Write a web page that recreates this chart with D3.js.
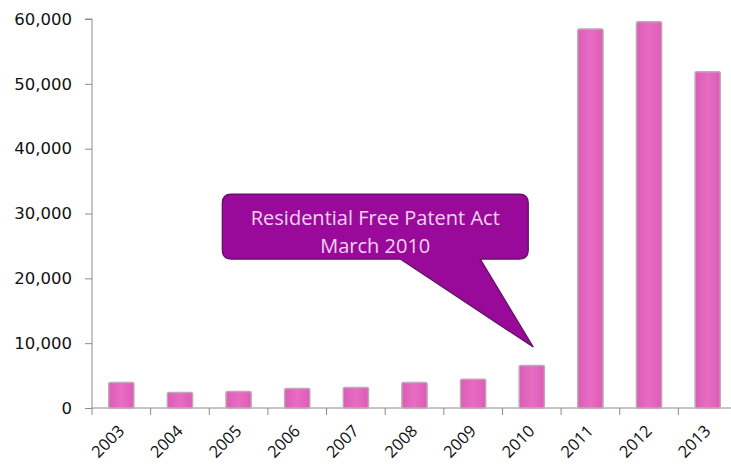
<!DOCTYPE html>
<html><head><meta charset="utf-8">
<script src="https://cdn.jsdelivr.net/npm/d3@7"></script>
<style>body{margin:0;background:#fff}svg{display:block}</style>
</head><body>
<svg id="c" width="731" height="464"></svg>
<script>
const years = ["2003","2004","2005","2006","2007","2008","2009","2010","2011","2012","2013"];
const values = [3950, 2400, 2550, 3000, 3150, 3950, 4450, 6550, 58450, 59570, 51860];
const yTicks = [0, 10000, 20000, 30000, 40000, 50000, 60000];
const noteLines = ["Residential Free Patent Act", "March 2010"];
const noteYear = "2010";
const noteValue = 9400;

const svg = d3.select("#c");
const x = d3.scaleBand().domain(years).range([92, 737]).paddingInner(0.57).paddingOuter(0.285);
const xb = d3.scaleBand().domain(years).range([92, 737]);
const y = d3.scaleLinear().domain([0, 60000]).range([408, 19]);

// y axis
const ya = svg.append("g").attr("transform","translate(92,0)")
  .call(d3.axisLeft(y).tickValues(yTicks).tickSize(7).tickPadding(13).tickFormat(d3.format(",")));
ya.select(".domain").attr("stroke","#8c8c8c").attr("d","M-7,19H0V408");
ya.selectAll(".tick line").attr("stroke","#8c8c8c");
ya.selectAll("text").attr("font-family","DejaVu Sans, Verdana, sans-serif").attr("font-size","16.5px").attr("fill","#111");

// x axis line and ticks at band boundaries
const xg = svg.append("g");
xg.append("line").attr("x1",92).attr("x2",737).attr("y1",408).attr("y2",408).attr("stroke","#8c8c8c");
xg.selectAll("line.t").data(years).join("line").attr("class","t")
  .attr("x1",d=>xb(d)).attr("x2",d=>xb(d)).attr("y1",408).attr("y2",415).attr("stroke","#8c8c8c");
xg.selectAll("text").data(years).join("text")
  .attr("transform",d=>`translate(${xb(d)+xb.bandwidth()/2+4},${432}) rotate(-45)`)
  .attr("text-anchor","end").attr("font-family","Open Sans, sans-serif").attr("font-size","16.5px").attr("fill","#111")
  .text(d=>d);

// gradient
const defs = svg.append("defs");
const g = defs.append("linearGradient").attr("id","bg").attr("x1","0").attr("x2","1");
g.append("stop").attr("offset","0").attr("stop-color","#dc5cb4");
g.append("stop").attr("offset","0.5").attr("stop-color","#e86cc4");
g.append("stop").attr("offset","1").attr("stop-color","#dc5cb4");

svg.selectAll("rect.bar").data(years).join("rect").attr("class","bar")
  .attr("x",d=>x(d)).attr("width",x.bandwidth())
  .attr("y",(d,i)=>y(values[i])).attr("height",(d,i)=>y(0)-y(values[i]))
  .attr("fill","url(#bg)").attr("stroke","#c0a8bc").attr("stroke-width",1.5).attr("rx",1.5);

// callout
const tx = xb(noteYear) + xb.bandwidth()/2 + 1.5, ty = y(noteValue);
const L = tx-311, R = tx-5, T = ty-153, B = ty-88, r = 9;
const b1 = tx-133, b2 = tx-53;
const p = d3.path();
p.moveTo(L+r,T); p.lineTo(R-r,T); p.quadraticCurveTo(R,T,R,T+r);
p.lineTo(R,B-r); p.quadraticCurveTo(R,B,R-r,B);
p.lineTo(b2,B); p.lineTo(tx,ty); p.lineTo(b1,B);
p.lineTo(L+r,B); p.quadraticCurveTo(L,B,L,B-r);
p.lineTo(L,T+r); p.quadraticCurveTo(L,T,L+r,T); p.closePath();
svg.append("path").attr("d",p.toString()).attr("fill","#9a0a9a").attr("stroke","#5a1060").attr("stroke-width",1.2);
svg.selectAll("text.note").data(noteLines).join("text").attr("class","note")
  .attr("x",(L+R)/2).attr("y",(d,i)=>T+31+i*28)
  .attr("text-anchor","middle").attr("font-family","Open Sans, sans-serif").attr("font-size","20px")
  .attr("fill","#f6d2f2").text(d=>d);
</script>
</body></html>
